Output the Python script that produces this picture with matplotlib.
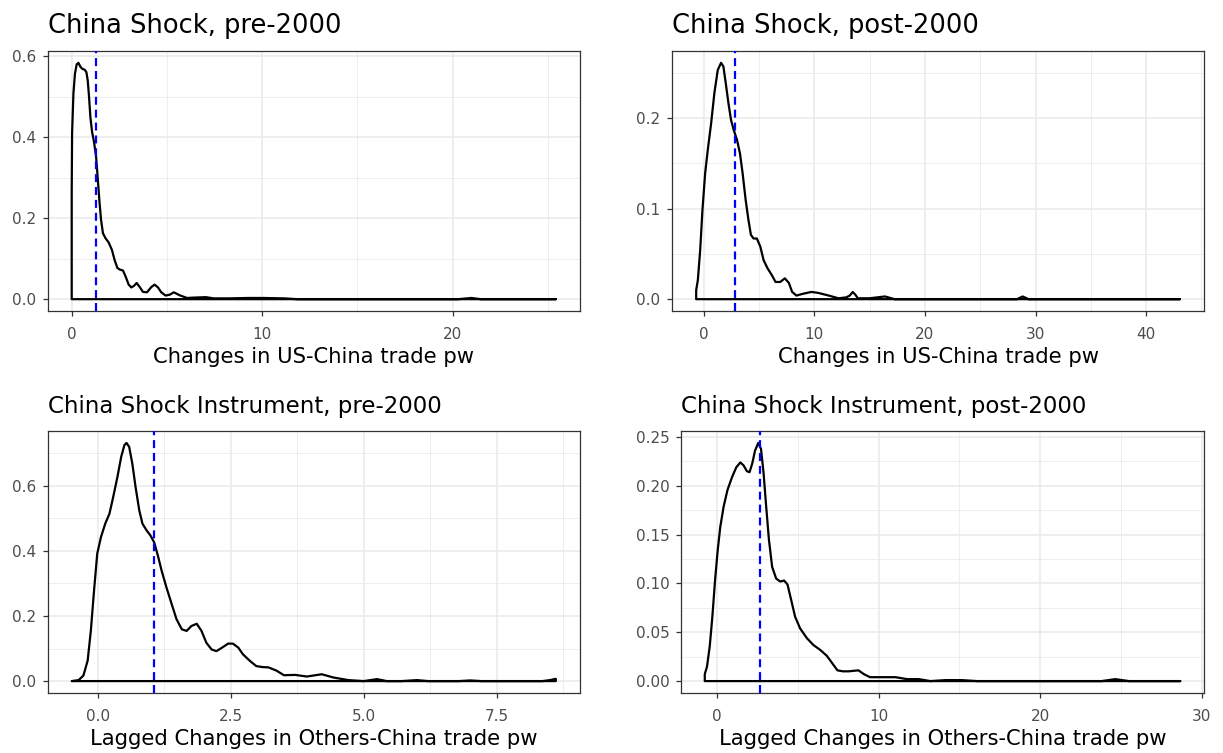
import numpy as np
import matplotlib
matplotlib.use("Agg")
import matplotlib.pyplot as plt
from matplotlib.ticker import MultipleLocator

plt.rcParams['font.family'] = ['DejaVu Sans']

# ---- density curves ----
pre_x = [0, 0, 0.02, 0.09, 0.17, 0.26, 0.35, 0.46, 0.56, 0.68, 0.77, 0.84, 0.91, 0.98, 1.07, 1.17,
         1.28, 1.36, 1.45, 1.54, 1.64, 1.77, 1.94, 2.11, 2.25, 2.40, 2.53, 2.69, 2.83, 2.99, 3.13,
         3.27, 3.41, 3.57, 3.74, 3.95, 4.18, 4.35, 4.53, 4.70, 4.93, 5.14, 5.36, 5.65, 6.05, 6.45,
         7.05, 7.45, 8.26, 9.26, 10.06, 11.16, 11.86, 20.28, 20.98, 21.48, 25.41]
pre_y = [0, 0.262, 0.410, 0.508, 0.557, 0.580, 0.584, 0.574, 0.569, 0.567, 0.561, 0.541, 0.500,
         0.450, 0.413, 0.389, 0.352, 0.303, 0.245, 0.196, 0.163, 0.151, 0.140, 0.122, 0.097, 0.077,
         0.073, 0.071, 0.056, 0.036, 0.029, 0.033, 0.040, 0.030, 0.018, 0.017, 0.030, 0.036, 0.029,
         0.017, 0.009, 0.011, 0.017, 0.010, 0.003, 0.004, 0.005, 0.002, 0.002, 0.003, 0.003, 0.002,
         0, 0, 0.003, 0, 0]
pre_mean = 1.26

post_x = [-0.69, -0.69, -0.54, -0.33, -0.12, 0.12, 0.36, 0.66, 0.96, 1.26, 1.56, 1.77, 1.98, 2.22,
          2.46, 2.70, 3.00, 3.27, 3.51, 3.78, 4.03, 4.26, 4.50, 4.80, 5.11, 5.41, 5.77, 6.13, 6.49,
          6.91, 7.33, 7.69, 7.99, 8.38, 8.98, 9.73, 10.33, 11.30, 12.18, 12.88, 13.2, 13.47, 13.7,
          13.93, 14.98, 16.39, 17.26, 28.32, 28.84, 29.37, 43.05]
post_y = [0, 0.010, 0.021, 0.054, 0.099, 0.139, 0.165, 0.194, 0.228, 0.253, 0.261, 0.257, 0.239,
          0.217, 0.198, 0.187, 0.176, 0.161, 0.139, 0.110, 0.088, 0.071, 0.067, 0.067, 0.058, 0.043,
          0.034, 0.027, 0.019, 0.019, 0.023, 0.018, 0.008, 0.004, 0.006, 0.008, 0.007, 0.004, 0.001,
          0.002, 0.004, 0.008, 0.005, 0.001, 0.001, 0.003, 0, 0, 0.003, 0, 0]
post_mean = 2.82

iv_pre_x = [-0.49, -0.36, -0.27, -0.19, -0.13, -0.07, -0.01, 0.06, 0.14, 0.22, 0.29, 0.37, 0.44,
            0.50, 0.54, 0.59, 0.65, 0.71, 0.78, 0.84, 0.92, 0.99, 1.06, 1.13, 1.20, 1.29, 1.39,
            1.48, 1.58, 1.67, 1.76, 1.86, 1.95, 2.04, 2.14, 2.23, 2.34, 2.45, 2.54, 2.64, 2.73,
            2.86, 2.98, 3.1, 3.21, 3.36, 3.50, 3.71, 3.93, 4.21, 4.43, 4.71, 5.0, 5.25, 5.43, 5.71,
            6.0, 6.21, 6.79, 7.0, 7.21, 8.36, 8.5, 8.61]
iv_pre_y = [0, 0.003, 0.017, 0.063, 0.155, 0.278, 0.391, 0.442, 0.483, 0.514, 0.565, 0.627, 0.688,
            0.724, 0.731, 0.719, 0.667, 0.596, 0.524, 0.483, 0.462, 0.447, 0.426, 0.385, 0.339,
            0.288, 0.236, 0.190, 0.159, 0.154, 0.169, 0.176, 0.154, 0.118, 0.097, 0.092, 0.103,
            0.115, 0.115, 0.103, 0.082, 0.062, 0.046, 0.043, 0.042, 0.032, 0.018, 0.019, 0.014,
            0.021, 0.011, 0.003, 0, 0.006, 0, 0, 0.003, 0, 0, 0.002, 0, 0, 0.003, 0.007]
iv_pre_mean = 1.06

iv_post_x = [-0.76, -0.76, -0.62, -0.45, -0.29, -0.12, 0.04, 0.20, 0.41, 0.65, 0.93, 1.19, 1.44,
             1.64, 1.85, 2.01, 2.18, 2.35, 2.55, 2.72, 2.88, 3.04, 3.21, 3.41, 3.66, 3.91, 4.15,
             4.36, 4.59, 4.83, 5.14, 5.56, 5.96, 6.38, 6.79, 7.1, 7.45, 7.8, 8.14, 8.75, 9.1, 9.47,
             10.31, 11.04, 11.76, 12.48, 13.2, 14.17, 15.13, 16.1, 23.81, 24.65, 25.49, 28.67]
iv_post_y = [0, 0.007, 0.015, 0.036, 0.066, 0.104, 0.134, 0.158, 0.179, 0.196, 0.209, 0.219, 0.224,
             0.221, 0.215, 0.214, 0.223, 0.236, 0.244, 0.238, 0.213, 0.179, 0.145, 0.117, 0.105,
             0.102, 0.103, 0.099, 0.083, 0.066, 0.054, 0.044, 0.037, 0.032, 0.026, 0.019, 0.011,
             0.010, 0.010, 0.011, 0.007, 0.004, 0.004, 0.004, 0.002, 0.002, 0, 0.001, 0.001, 0,
             0, 0.002, 0, 0]
iv_post_mean = 2.67

titles = ["China Shock, pre-2000", "China Shock, post-2000",
          "China Shock Instrument, pre-2000", "China Shock Instrument, post-2000"]
xlabels = ["Changes in US-China trade pw", "Changes in US-China trade pw",
           "Lagged Changes in Others-China trade pw", "Lagged Changes in Others-China trade pw"]

W, H = 1223, 753
fig = plt.figure(figsize=(W / 100, H / 100), dpi=100)


def make_ax(l, t, r, b):
    return fig.add_axes([l / W, 1 - b / H, (r - l) / W, (b - t) / H])


def plot_density(ax, x, y, vline, title, xlabel, xmaj, ymaj, title_size, yfmt, xfmt):
    x = np.array(x)
    y = np.array(y)
    # ggplot-like 5% expansion
    xr = x.max() - x.min()
    yr = y.max()
    ax.set_xlim(x.min() - 0.05 * xr, x.max() + 0.05 * xr)
    ax.set_ylim(-0.05 * yr, yr * 1.05)

    ax.xaxis.set_major_locator(MultipleLocator(xmaj))
    ax.xaxis.set_minor_locator(MultipleLocator(xmaj / 2))
    ax.yaxis.set_major_locator(MultipleLocator(ymaj))
    ax.yaxis.set_minor_locator(MultipleLocator(ymaj / 2))
    ax.yaxis.set_major_formatter(plt.FormatStrFormatter(yfmt))
    ax.xaxis.set_major_formatter(plt.FormatStrFormatter(xfmt))

    ax.grid(True, which='major', color='#EBEBEB', linewidth=1.2, zorder=0)
    ax.grid(True, which='minor', color='#EBEBEB', linewidth=0.6, zorder=0)
    ax.set_axisbelow(True)

    # closed outline like geom_density (baseline included)
    px = np.r_[x, x[-1], x[0]]
    py = np.r_[y, 0, 0]
    ax.fill(px, py, facecolor='none', edgecolor='black', linewidth=1.6, zorder=3,
            joinstyle='round')
    ax.axvline(vline, color='blue', linestyle=(0, (3.6, 2.2)), linewidth=1.6, zorder=4)

    for sp in ax.spines.values():
        sp.set_color('#333333')
        sp.set_linewidth(0.9)
    ax.tick_params(which='major', length=3.4, width=0.9, color='#333333', labelcolor='#4D4D4D',
                   labelsize=11)
    ax.tick_params(axis='x', which='major', pad=8)
    ax.tick_params(axis='y', which='major', pad=5)
    ax.tick_params(which='minor', length=0)

    ax.set_title(title, loc='left', fontsize=title_size, pad=13)
    ax.set_xlabel(xlabel, fontsize=15.2, labelpad=4)


ax1 = make_ax(47.5, 51, 580, 311)
ax2 = make_ax(672, 51, 1204, 311)
ax3 = make_ax(47.5, 431, 580, 693)
ax4 = make_ax(681, 431, 1204, 693)

plot_density(ax1, pre_x, pre_y, pre_mean, titles[0], xlabels[0], 10, 0.2, 18.5, "%.1f", "%g")
plot_density(ax2, post_x, post_y, post_mean, titles[1], xlabels[1], 10, 0.1, 18.5, "%.1f", "%g")
plot_density(ax3, iv_pre_x, iv_pre_y, iv_pre_mean, titles[2], xlabels[2], 2.5, 0.2, 16.5, "%.1f", "%.1f")
plot_density(ax4, iv_post_x, iv_post_y, iv_post_mean, titles[3], xlabels[3], 10, 0.05, 16.5, "%.2f", "%g")

fig.savefig("out.png", dpi=100)
